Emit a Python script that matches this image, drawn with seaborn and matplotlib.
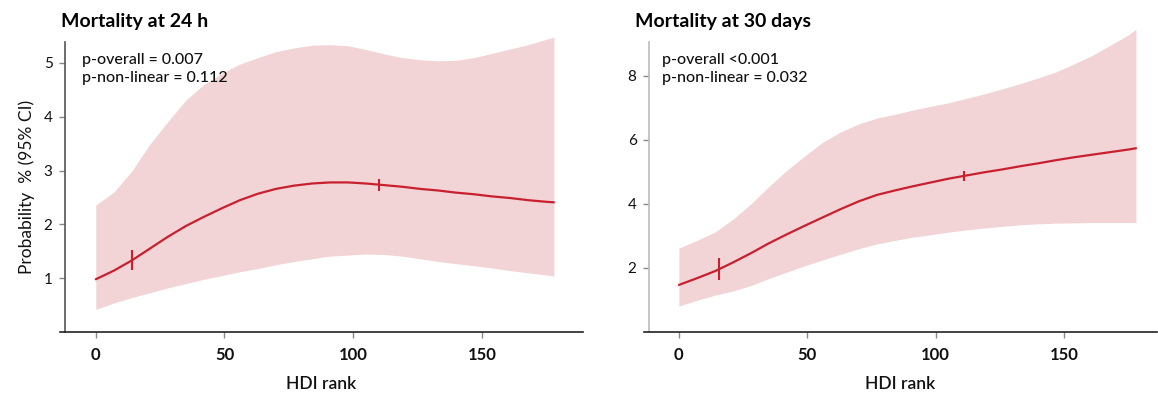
import matplotlib
matplotlib.use("Agg")
import matplotlib.pyplot as plt
import seaborn as sns
import pandas as pd

# ---- data ----
hdi = [0, 7, 14, 21, 28, 35, 42, 49, 56, 63, 70, 77, 84, 91, 98, 105, 112,
       119, 126, 133, 140, 147, 154, 161, 168, 175, 178]

fit_24 = [0.98, 1.14, 1.33, 1.55, 1.77, 1.97, 2.14, 2.30, 2.45, 2.57, 2.66, 2.72, 2.76, 2.78,
          2.78, 2.76, 2.73, 2.70, 2.66, 2.63, 2.59, 2.56, 2.52, 2.49, 2.45, 2.42, 2.41]
upper_24 = [2.36, 2.60, 2.99, 3.49, 3.91, 4.31, 4.60, 4.81, 4.98, 5.10, 5.21, 5.28, 5.33, 5.34,
            5.32, 5.25, 5.17, 5.10, 5.06, 5.04, 5.05, 5.10, 5.18, 5.26, 5.34, 5.44, 5.48]
lower_24 = [0.42, 0.54, 0.64, 0.73, 0.82, 0.90, 0.98, 1.05, 1.12, 1.18, 1.25, 1.31, 1.36, 1.41,
            1.43, 1.45, 1.44, 1.41, 1.36, 1.31, 1.27, 1.23, 1.19, 1.14, 1.10, 1.06, 1.04]
knot_x_24 = [14.2, 110]
knot_y_24 = [1.33, 2.74]

fit_30 = [1.47, 1.68, 1.90, 2.17, 2.46, 2.77, 3.05, 3.32, 3.58, 3.84, 4.08, 4.28, 4.42, 4.55,
          4.67, 4.79, 4.89, 4.99, 5.08, 5.18, 5.27, 5.37, 5.46, 5.54, 5.62, 5.70, 5.74]
upper_30 = [2.62, 2.86, 3.12, 3.52, 4.00, 4.54, 5.05, 5.50, 5.93, 6.25, 6.50, 6.68, 6.80, 6.93,
            7.05, 7.16, 7.30, 7.44, 7.60, 7.76, 7.94, 8.13, 8.38, 8.64, 8.96, 9.28, 9.46]
lower_30 = [0.81, 0.99, 1.15, 1.28, 1.45, 1.67, 1.87, 2.07, 2.25, 2.43, 2.60, 2.75, 2.86, 2.96,
            3.04, 3.12, 3.19, 3.25, 3.30, 3.35, 3.38, 3.40, 3.41, 3.42, 3.42, 3.42, 3.42]
knot_x_30 = [15.5, 111]
knot_y_30 = [1.96, 4.88]

titles = ["Mortality at 24 h", "Mortality at 30 days"]
pvals = [["p-overall = 0.007", "p-non-linear = 0.112"],
         ["p-overall <0.001", "p-non-linear = 0.032"]]
yticks = [[1, 2, 3, 4, 5], [2, 4, 6, 8]]
xticks = [0, 50, 100, 150]
xlabel = "HDI rank"
ylabel = "Probability  % (95% CI)"

LINE = "#C8202F"
BAND = "#F2D4D6"

sns.set_theme(style="white")
plt.rcParams["font.family"] = ["Lato", "DejaVu Sans"]

W, H = 1158, 396
fig = plt.figure(figsize=(W / 100, H / 100), dpi=100)

# axes boxes in pixels: (left, right, top, bottom)
boxes = [(60, 583, 42, 332), (644, 1157, 42, 332)]
xlims = [(-13.9, 189.3), (-13.6, 186.2)]
ylims = [(0, 5.39), (0, 9.06)]
yspine_col = ["#555555", "#BBBBBB"]
title_x = [61, 635]
text_x = [22, 18]

panels = [
    (fit_24, upper_24, lower_24, knot_x_24, knot_y_24, [196, 64]),
    (fit_30, upper_30, lower_30, knot_x_30, knot_y_30, [256, 45]),
]

for i, (fit, up, lo, kx, ky, ksz) in enumerate(panels):
    l, r, t, b = boxes[i]
    ax = fig.add_axes([l / W, 1 - b / H, (r - l) / W, (b - t) / H])
    df = pd.DataFrame({"x": hdi, "fit": fit, "up": up, "lo": lo})
    ax.fill_between(df["x"], df["lo"], df["up"], color=BAND, linewidth=0, clip_on=False, zorder=1)
    sns.lineplot(data=df, x="x", y="fit", ax=ax, color=LINE, linewidth=1.6, zorder=3)
    for xk, yk, sk in zip(kx, ky, ksz):
        ax.scatter([xk], [yk], marker="|", s=sk, color=LINE, linewidths=1.5, zorder=4)
    ax.set_xlim(*xlims[i])
    ax.set_ylim(*ylims[i])
    ax.set_xticks(xticks)
    ax.set_yticks(yticks[i])
    ax.set_xticklabels([str(v) for v in xticks], fontsize=12, fontweight="bold")
    ax.set_yticklabels([str(v) for v in yticks[i]], fontsize=12, fontweight="bold")
    ax.tick_params(axis="both", length=4, width=1, color="#888888", pad=5,
                   labelcolor="#111111", bottom=True, left=True)
    ax.tick_params(axis="x", pad=7)
    for s in ["top", "right"]:
        ax.spines[s].set_visible(False)
    ax.spines["left"].set_position(("axes", 5 / (r - l)))
    ax.spines["left"].set_color(yspine_col[i])
    ax.spines["left"].set_linewidth(1.2)
    ax.spines["bottom"].set_color("#222222")
    ax.spines["bottom"].set_linewidth(1.2)
    ax.set_xlabel(xlabel, fontsize=12.5, color="#111111", labelpad=9, fontweight="semibold")
    if i == 0:
        ax.set_ylabel(ylabel, fontsize=12.5, color="#111111", labelpad=6)
    else:
        ax.set_ylabel("")
    ax.text(text_x[i] / (r - l), 0.962, pvals[i][0],
            transform=ax.transAxes, fontsize=11.5, va="top", ha="left", color="#111111",
            fontweight="medium")
    ax.text(text_x[i] / (r - l), 0.900, pvals[i][1],
            transform=ax.transAxes, fontsize=11.5, va="top", ha="left", color="#111111",
            fontweight="medium")
    fig.text(title_x[i] / W, 1 - 27 / H, titles[i], fontsize=14, fontweight="bold",
             ha="left", va="baseline", color="#000000")

fig.savefig("out.png", dpi=100)
